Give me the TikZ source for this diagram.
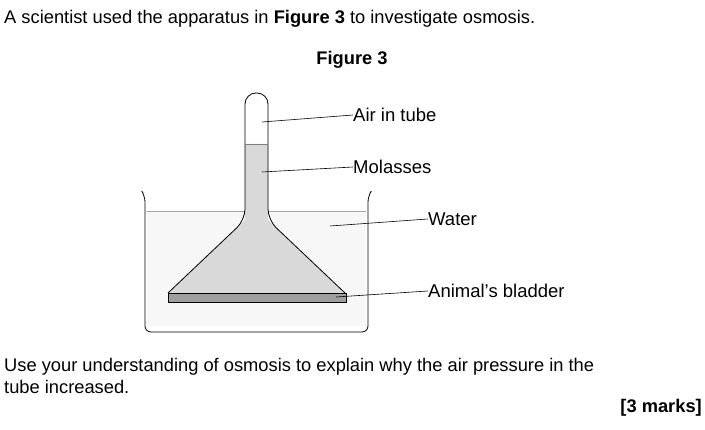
\documentclass[tikz,border=0pt]{standalone}
\usepackage{fontspec}
\setmainfont{Liberation Sans}
\begin{document}
\begin{tikzpicture}[x=1pt,y=-1pt,
  txt/.style={anchor=west,inner sep=0pt,font=\fontsize{18.3}{22}\selectfont},
  lbl/.style={anchor=west,inner sep=0pt,font=\fontsize{18.5}{22}\selectfont},
  leader/.style={line width=0.6pt}]
\useasboundingbox (0,0) rectangle (705,430);
% question text
\node[txt] (q1) at (4,19) {A scientist used the apparatus in \textbf{Figure 3} to investigate osmosis.};
\node[txt,anchor=center] (fig) at (352,60) {\textbf{Figure 3}};
% beaker with water
\fill[gray!6] (147,211) -- (366,211) -- (366,326) -- (147,326) -- cycle;
\draw[line width=0.6pt, gray!70] (147,211) -- (245,211) (268,211) -- (366,211);
\draw[line width=0.8pt,rounded corners=6pt] (143,193) -- (145,196) -- (145,332) -- (368,332) -- (368,196) -- (370,193);
% funnel and tube with molasses
\fill[gray!30] (168,293) -- (245,220) -- (245,144) -- (268,144) -- (268,220) -- (345,293) -- cycle;
\draw[line width=0.8pt,rounded corners=11pt] (168,293) -- (245,220) -- (245,93) -- (268,93) -- (268,220) -- (345,293);
\draw[line width=0.5pt, gray] (245,144) -- (268,144);
% bladder
\draw[fill=gray!75,line width=0.6pt] (168,293) rectangle (346,302);
% labels
\node[lbl] (air) at (353,115) {Air in tube};
\node[lbl] (mol) at (353,167) {Molasses};
\node[lbl] (wat) at (428,219) {Water};
\node[lbl] (bla) at (428,291) {Animal's bladder};
\coordinate (pAir) at (262,122);
\coordinate (pMol) at (262,172);
\coordinate (pWat) at (330,226);
\coordinate (pBla) at (336,297);
\draw[leader] (pAir) -- (air.west);
\draw[leader] (pMol) -- (mol.west);
\draw[leader] (pWat) -- (wat.west);
\draw[leader] (pBla) -- (bla.west);
% question
\node[txt] (q2) at (4,367) {Use your understanding of osmosis to explain why the air pressure in the};
\node[txt] (q3) at (4,387) {tube increased.};
\node[txt,anchor=east] (mk) at (702,408) {\textbf{[3 marks]}};
\end{tikzpicture}
\end{document}
